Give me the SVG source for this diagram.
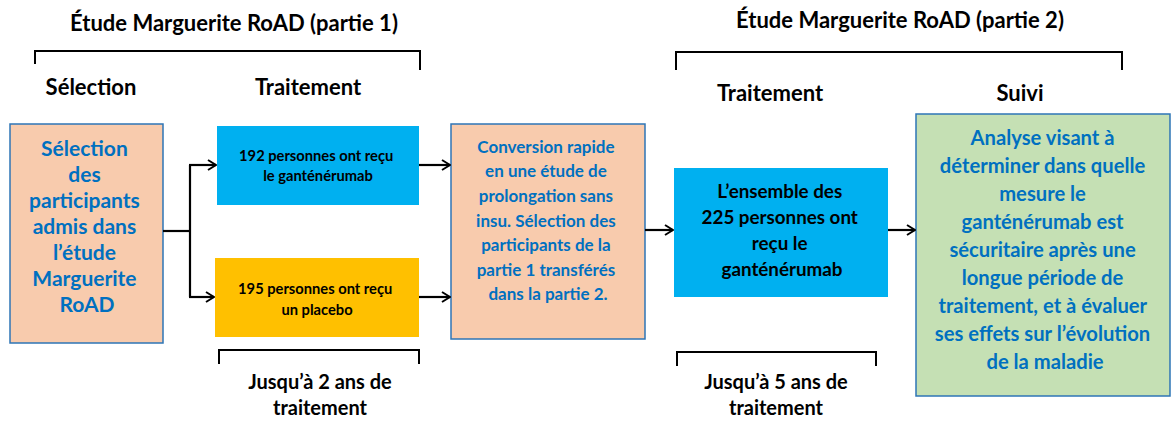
<svg xmlns="http://www.w3.org/2000/svg" width="1172" height="421" viewBox="0 0 1172 421">
<style>
text{font-family:Lato,"Liberation Sans",sans-serif;font-weight:bold;text-anchor:middle}
.h{font-size:22px;fill:#000}
.f{font-size:20px;fill:#000}
.blue{fill:#0070C0}
.blk{fill:#000}
.br{fill:none;stroke:#000;stroke-width:2}
.con{fill:none;stroke:#000;stroke-width:2.2}
.peach{fill:#F8CBAD;stroke:#2E75B6;stroke-width:1.5}
.green{fill:#C5E0B4;stroke:#2E75B6;stroke-width:1.5}
</style>
<defs>
<marker id="arr" viewBox="0 0 10 12" refX="9" refY="6" markerWidth="10" markerHeight="12" markerUnits="userSpaceOnUse" orient="auto">
<path d="M1,1 L9,6 L1,11" fill="none" stroke="#000" stroke-width="2"/>
</marker>
</defs>
<rect width="1172" height="421" fill="#fff"/>
<g id="headers">
<text class="h" x="234" y="31">Étude Marguerite RoAD (partie 1)</text>
<path class="br" d="M35,64 V51 H420 V70"/>
<text class="h" x="91" y="95">Sélection</text>
<text class="h" x="308" y="95">Traitement</text>
<text class="h" x="900" y="28">Étude Marguerite RoAD (partie 2)</text>
<path class="br" d="M676,70 V52 H1122 V70"/>
<text class="h" x="770" y="101">Traitement</text>
<text class="h" x="1020" y="101" font-size="21">Suivi</text>
<path class="br" d="M219,364 V350 H419 V364"/>
<text class="f" x="320" y="389">Jusqu’à 2 ans de</text>
<text class="f" x="320" y="415">traitement</text>
<path class="br" d="M677,366 V352 H876 V366"/>
<text class="f" x="776" y="389">Jusqu’à 5 ans de</text>
<text class="f" x="776" y="415">traitement</text>
</g>
<g id="selection">
<rect class="peach" x="10" y="124" width="153" height="219"/>
<text class="blue" font-size="21">
<tspan x="87" y="156">Sélection</tspan>
<tspan x="87" y="182">des</tspan>
<tspan x="87" y="208">participants</tspan>
<tspan x="87" y="234">admis dans</tspan>
<tspan x="87" y="260">l’étude</tspan>
<tspan x="87" y="286">Marguerite</tspan>
<tspan x="87" y="312">RoAD</tspan>
</text>
</g>
<g id="gant1">
<rect x="217" y="126" width="202" height="79" fill="#00B0F0"/>
<text class="blk" font-size="14.7">
<tspan x="318" y="161">192 personnes ont reçu</tspan>
<tspan x="318" y="181">le ganténérumab</tspan>
</text>
</g>
<g id="placebo">
<rect x="215" y="258" width="204" height="79" fill="#FFC000"/>
<text class="blk" font-size="14.7">
<tspan x="317" y="294">195 personnes ont reçu</tspan>
<tspan x="317" y="315">un placebo</tspan>
</text>
</g>
<g id="conversion">
<rect class="peach" x="451" y="124" width="194" height="215"/>
<text class="blue" font-size="17">
<tspan x="548" y="153">Conversion rapide</tspan>
<tspan x="548" y="177">en une étude de</tspan>
<tspan x="548" y="202">prolongation sans</tspan>
<tspan x="548" y="227">insu. Sélection des</tspan>
<tspan x="548" y="251">participants de la</tspan>
<tspan x="548" y="276">partie 1 transférés</tspan>
<tspan x="548" y="300">dans la partie 2.</tspan>
</text>
</g>
<g id="gant2">
<rect x="674" y="168" width="214" height="129" fill="#00B0F0"/>
<text class="blk" font-size="18.8">
<tspan x="782" y="198">L’ensemble des</tspan>
<tspan x="782" y="224">225 personnes ont</tspan>
<tspan x="782" y="250">reçu le</tspan>
<tspan x="782" y="276">ganténérumab</tspan>
</text>
</g>
<g id="suivi">
<rect class="green" x="916" y="114" width="254" height="282"/>
<text class="blue" font-size="20.2">
<tspan x="1045" y="145">Analyse visant à</tspan>
<tspan x="1045" y="173">déterminer dans quelle</tspan>
<tspan x="1045" y="201">mesure le</tspan>
<tspan x="1045" y="229">ganténérumab est</tspan>
<tspan x="1045" y="257">sécuritaire après une</tspan>
<tspan x="1045" y="285">longue période de</tspan>
<tspan x="1045" y="313">traitement, et à évaluer</tspan>
<tspan x="1045" y="341">ses effets sur l’évolution</tspan>
<tspan x="1045" y="369">de la maladie</tspan>
</text>
</g>
<g id="connectors">
<path class="con" d="M163,231 H190"/>
<path class="con" d="M190,165 V297"/>
<path class="con" d="M189,165 H216" marker-end="url(#arr)"/>
<path class="con" d="M189,297 H214" marker-end="url(#arr)"/>
<path class="con" d="M419,165 H450" marker-end="url(#arr)"/>
<path class="con" d="M419,297 H450" marker-end="url(#arr)"/>
<path class="con" d="M645,230 H673" marker-end="url(#arr)"/>
<path class="con" d="M888,230 H915" marker-end="url(#arr)"/>
</g>
</svg>
